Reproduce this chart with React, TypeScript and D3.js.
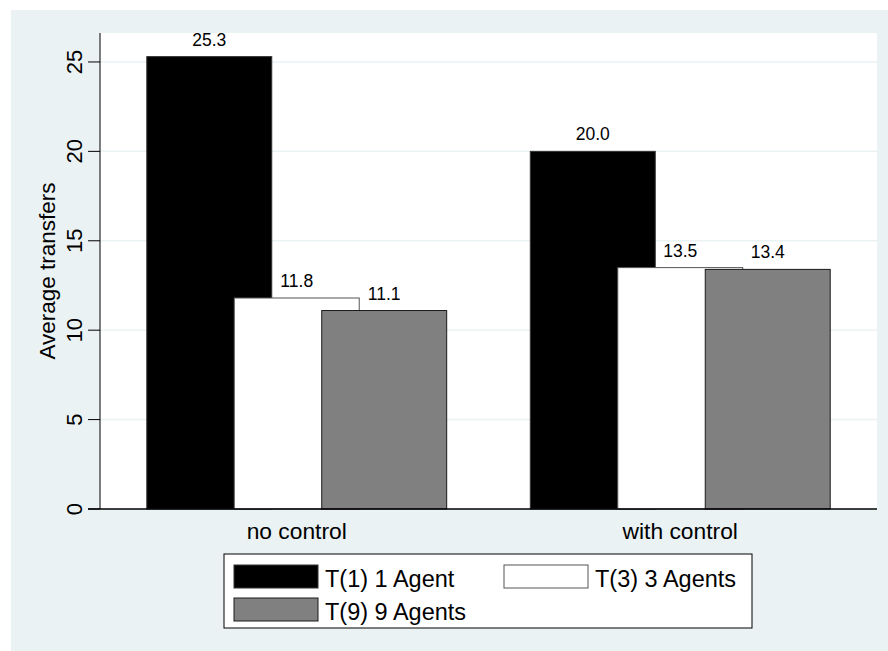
import React from "react";
import * as d3 from "d3";

const categories = ["no control", "with control"];
const seriesNames = ["T(1) 1 Agent", "T(3) 3 Agents", "T(9) 9 Agents"];
const seriesFills = ["#000000", "#ffffff", "#808080"];
const seriesStrokes = ["#333333", "#555555", "#1a1a1a"];
const values: number[][] = [
  [25.3, 11.8, 11.1],
  [20.0, 13.5, 13.4],
];
const yTicks = [0, 5, 10, 15, 20, 25];
const yTitle = "Average transfers";

const W = 888;
const H = 651;
const BG = "rgb(234,242,243)";
const FONT = "'Liberation Sans', Arial, Helvetica, sans-serif";

export default function App() {
  const plot = { left: 100, right: 877, top: 33, bottom: 509 };
  const y = d3.scaleLinear().domain([0, 26.62]).range([plot.bottom, plot.top]);
  const x = d3
    .scaleBand<string>()
    .domain(categories)
    .range([plot.left, plot.right])
    .paddingInner(0.218)
    .paddingOuter(0.122);
  const bw = x.bandwidth();
  const barW = bw / 2.4;
  const offset = barW * 0.7;

  const legendItems = [
    { i: 0, x: 234, y: 565, tx: 325, ty: 587 },
    { i: 1, x: 504, y: 565, tx: 595, ty: 587 },
    { i: 2, x: 234, y: 598, tx: 325, ty: 620 },
  ];

  return (
    <svg
      width={W}
      height={H}
      style={{ position: "absolute", left: 0, top: 0, background: "#fff" }}
      fontFamily={FONT}
    >
      <rect x={11} y={10} width={W - 11} height={H - 10} fill={BG} />
      <rect
        x={plot.left}
        y={plot.top}
        width={plot.right - plot.left}
        height={plot.bottom - plot.top}
        fill="#fff"
      />
      {yTicks
        .filter((t) => t > 0)
        .map((t) => (
          <line
            key={"g" + t}
            x1={plot.left}
            x2={plot.right}
            y1={y(t)}
            y2={y(t)}
            stroke={BG}
            strokeWidth={1.5}
          />
        ))}
      {categories.map((c, ci) =>
        values[ci].map((v, si) => {
          const bx = (x(c) as number) + si * offset;
          return (
            <g key={c + si}>
              <rect
                x={bx}
                y={y(v)}
                width={barW}
                height={y(0) - y(v)}
                fill={seriesFills[si]}
                stroke={seriesStrokes[si]}
                strokeWidth={1}
              />
            </g>
          );
        })
      )}
      {categories.map((c, ci) =>
        values[ci].map((v, si) => {
          const bx = (x(c) as number) + si * offset;
          return (
            <text
              key={"l" + c + si}
              x={bx + barW / 2}
              y={y(v) - 11}
              textAnchor="middle"
              fontSize={17.5}
              fill="#000"
            >
              {v.toFixed(1)}
            </text>
          );
        })
      )}
      {/* y axis */}
      <line x1={plot.left} x2={plot.left} y1={plot.top} y2={plot.bottom} stroke="#000" strokeWidth={1} />
      <line x1={plot.left - 12} x2={plot.right} y1={plot.bottom} y2={plot.bottom} stroke="#000" strokeWidth={1.5} />
      {yTicks.map((t) => (
        <g key={"t" + t}>
          <line x1={plot.left - 12} x2={plot.left} y1={y(t)} y2={y(t)} stroke="#000" strokeWidth={1} />
          <text
            transform={`translate(82,${y(t)}) rotate(-90)`}
            textAnchor="middle"
            fontSize={22}
            fill="#000"
          >
            {t}
          </text>
        </g>
      ))}
      <text
        transform={`translate(55,${(plot.top + plot.bottom) / 2}) rotate(-90)`}
        textAnchor="middle"
        fontSize={22.5}
        fill="#000"
      >
        {yTitle}
      </text>
      {categories.map((c) => (
        <text
          key={"c" + c}
          x={(x(c) as number) + bw / 2}
          y={539}
          textAnchor="middle"
          fontSize={22.8}
          fill="#000"
        >
          {c}
        </text>
      ))}
      {/* legend */}
      <rect x={224} y={554} width={528} height={74} fill="#fff" stroke="#000" strokeWidth={1} />
      {legendItems.map((li) => (
        <g key={"li" + li.i}>
          <rect
            x={li.x}
            y={li.y}
            width={84}
            height={23}
            fill={seriesFills[li.i]}
            stroke={seriesStrokes[li.i]}
            strokeWidth={1}
          />
          <text x={li.tx} y={li.ty} fontSize={23.5} fill="#000">
            {seriesNames[li.i]}
          </text>
        </g>
      ))}
    </svg>
  );
}
